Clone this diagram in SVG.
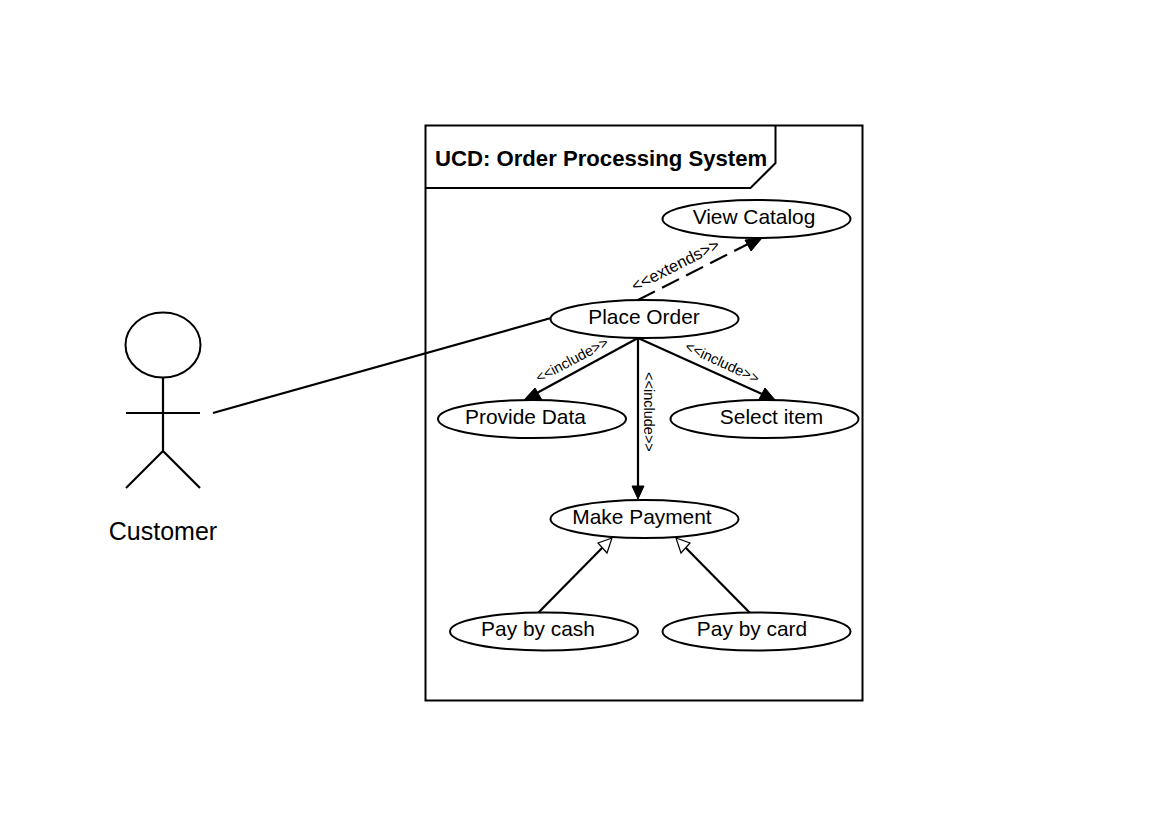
<svg xmlns="http://www.w3.org/2000/svg" width="1169" height="827" viewBox="0 0 1169 827">
<style>
text{font-family:"Liberation Sans",Arial,sans-serif;fill:#000}
.n{font-size:20.900px}
.l{font-size:14.500px}
.e{font-size:16.500px}
.t{font-size:22.150px;font-weight:bold}
.a{font-size:25px}
.u{fill:#fff;stroke:#000;stroke-width:2}
.c{fill:none;stroke:#000;stroke-width:2.200}
.f{fill:#000;stroke:#000;stroke-width:1}
.o{fill:#fff;stroke:#000;stroke-width:1.200}
</style>
<rect width="1169" height="827" fill="#fff"/>
<g id="frame">
<rect x="425.500" y="125.500" width="437" height="575" fill="#fff" stroke="#000" stroke-width="2"/>
<path d="M775.500 125.500V163L750.500 188H425.500" fill="none" stroke="#000" stroke-width="2"/>
<text class="t" x="435" y="166">UCD: Order Processing System</text>
</g>
<g id="connectors">
<path class="c" d="M213 413L551 318"/>
<path class="c" d="M638 300L748 244" stroke-dasharray="19 8"/>
<path class="f" d="M762 238L745 240L751 251Z"/>
<path class="c" d="M638 338L535 394"/>
<path class="f" d="M524 400L542 400L535 388Z"/>
<path class="c" d="M638 338L762 394"/>
<path class="f" d="M776 401L758 401L765 388Z"/>
<path class="c" d="M638 338V488"/>
<path class="f" d="M638 499L632 486H644Z"/>
<path class="c" d="M538 613L603 547"/>
<path class="o" d="M612 538L598 543L607 553Z"/>
<path class="c" d="M750 613L685 547"/>
<path class="o" d="M676 538L681 553L690 543Z"/>
<text class="e" transform="translate(635 292) rotate(-27)">&lt;&lt;extends&gt;&gt;</text>
<text class="l" transform="translate(539 383) rotate(-28)">&lt;&lt;include&gt;&gt;</text>
<text class="l" transform="translate(684 350) rotate(25)">&lt;&lt;include&gt;&gt;</text>
<text class="l" transform="translate(644 372) rotate(90)">&lt;&lt;include&gt;&gt;</text>
</g>
<g id="actor-customer">
<ellipse cx="163" cy="345" rx="37.500" ry="32.500" class="u"/>
<path class="c" d="M163 378V451M126 413H200M126 488L163 451L200 488"/>
<text class="a" x="163" y="540" text-anchor="middle">Customer</text>
</g>
<g id="view-catalog"><ellipse cx="756.500" cy="219" rx="94" ry="19" class="u"/><text class="n" x="754" y="224" text-anchor="middle">View Catalog</text></g>
<g id="place-order"><ellipse cx="644.500" cy="319" rx="94" ry="19" class="u"/><text class="n" x="644" y="324" text-anchor="middle">Place Order</text></g>
<g id="provide-data"><ellipse cx="532" cy="419" rx="94" ry="19" class="u"/><text class="n" x="525.500" y="424" text-anchor="middle">Provide Data</text></g>
<g id="select-item"><ellipse cx="764.500" cy="419" rx="94" ry="19" class="u"/><text class="n" x="771.500" y="424" text-anchor="middle">Select item</text></g>
<g id="make-payment"><ellipse cx="644.500" cy="519" rx="94" ry="19" class="u"/><text class="n" x="642" y="524" text-anchor="middle">Make Payment</text></g>
<g id="pay-by-cash"><ellipse cx="544" cy="631.500" rx="94" ry="19" class="u"/><text class="n" x="538" y="636" text-anchor="middle">Pay by cash</text></g>
<g id="pay-by-card"><ellipse cx="756.500" cy="631.500" rx="94" ry="19" class="u"/><text class="n" x="752" y="636" text-anchor="middle">Pay by card</text></g>
</svg>
